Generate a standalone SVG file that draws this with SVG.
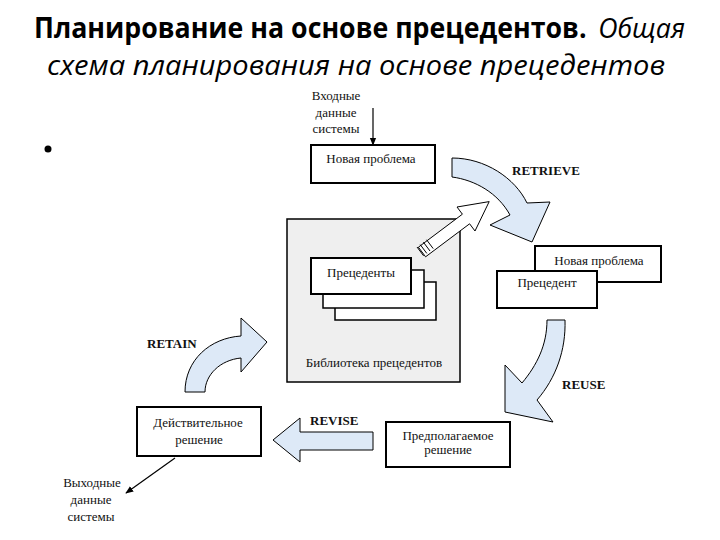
<svg xmlns="http://www.w3.org/2000/svg" width="720" height="540" viewBox="0 0 720 540">
<style>
.t{font-family:"Liberation Serif","Times New Roman",serif;font-size:13px;fill:#111;text-anchor:middle}
.lb{font-family:"Liberation Serif","Times New Roman",serif;font-size:13px;font-weight:bold;fill:#111}
.box{fill:#fff;stroke:#000;stroke-width:2}
.blue{fill:#dde9f7;stroke:#000;stroke-width:1}
.ln{stroke:#000;stroke-width:1.2;fill:none}
.ttl{font-family:"Open Sans","Noto Sans",sans-serif;font-size:28px;fill:#000}
</style>
<defs>
<marker id="ah" viewBox="0 0 10 10" refX="9" refY="5" markerWidth="8" markerHeight="8" markerUnits="userSpaceOnUse" orient="auto">
<path d="M0,1 L10,5 L0,9 Z" fill="#000"/>
</marker>
</defs>
<rect width="720" height="540" fill="#fff"/>
<g id="title">
<text class="ttl" x="34" y="38" textLength="651" lengthAdjust="spacingAndGlyphs"><tspan font-weight="bold">Планирование на основе прецедентов.</tspan> <tspan font-style="italic" dx="5">Общая</tspan></text>
<text class="ttl" x="47" y="75" font-style="italic" textLength="618" lengthAdjust="spacingAndGlyphs">схема планирования на основе прецедентов</text>
</g>
<circle cx="48" cy="149" r="3.5" fill="#000"/>
<g id="connectors">
<line class="ln" x1="373" y1="108" x2="373" y2="145" marker-end="url(#ah)"/>
<line class="ln" x1="175" y1="458" x2="126" y2="493" marker-end="url(#ah)"/>
<path id="retrieve" class="blue" d="M452,158 C485,158 515,178 527,203 L550,202 L532,242 L490,225 L510,215 C498,193 475,180 452,177 Z"/>
<path id="reuse" class="blue" d="M547,320 L565,320 C566,350 556,378 537,400 L553,422 L505,412 L505,365 L522,383 C537,365 547,345 547,320 Z"/>
<path id="revise" class="blue" d="M373,432 L300,432 L300,418 L273,440 L300,462 L300,450 L373,450 Z"/>
<path id="retain" class="blue" d="M185,392 L205,392 C205,375 220,360 241,358 L241,372 L267,342 L241,318 L241,336 C210,338 185,360 185,392 Z"/>
</g>
<g id="input-label">
<text class="t" x="336" y="100">Входные</text>
<text class="t" x="336" y="117">данные</text>
<text class="t" x="336" y="133">системы</text>
</g>
<g id="new-problem">
<rect class="box" x="311" y="145" width="124" height="38"/>
<text class="t" x="371" y="163">Новая проблема</text>
</g>
<g id="library">
<rect x="287" y="219" width="173" height="163" fill="#efefef" stroke="#000" stroke-width="1.5"/>
<text class="t" x="374" y="367">Библиотека прецедентов</text>
</g>
<g id="precedents">
<rect x="335" y="282" width="101" height="38" fill="#fff" stroke="#000" stroke-width="1.5"/>
<rect x="323" y="270" width="101" height="38" fill="#fff" stroke="#000" stroke-width="1.5"/>
<rect class="box" x="311" y="258" width="100" height="36"/>
<text class="t" x="361" y="277">Прецеденты</text>
</g>
<g id="striped-arrow">
<path d="M425.6,256.8 L469.6,223.8 L475,231 L489.2,201.6 L457,207 L462.4,214.2 L418.4,247.2 Z" fill="#fff" stroke="#000" stroke-width="1"/>
<path d="M421,253 L427.6,261.8 M424.2,250.6 L430.8,259.4 M427.4,248.2 L434,257 M430.6,245.8 L437.2,254.6" stroke="#000" stroke-width="1" fill="none" transform="translate(-4,-6)"/>
</g>
<g id="retrieved">
<rect class="box" x="535" y="246" width="126" height="36"/>
<text class="t" x="599" y="265">Новая проблема</text>
<rect class="box" x="497" y="271" width="100" height="37"/>
<text class="t" x="547" y="287">Прецедент</text>
</g>
<g id="proposed">
<rect class="box" x="386" y="422" width="124" height="45"/>
<text class="t" x="448" y="440">Предполагаемое</text>
<text class="t" x="448" y="454">решение</text>
</g>
<g id="actual">
<rect class="box" x="137" y="407" width="124" height="49"/>
<text class="t" x="198" y="427">Действительное</text>
<text class="t" x="199" y="444">решение</text>
</g>
<g id="output-label">
<text class="t" x="92" y="487">Выходные</text>
<text class="t" x="91" y="504">данные</text>
<text class="t" x="91" y="521">системы</text>
</g>
<g id="labels">
<text class="lb" x="512" y="175">RETRIEVE</text>
<text class="lb" x="562" y="389">REUSE</text>
<text class="lb" x="310" y="425">REVISE</text>
<text class="lb" x="147" y="348">RETAIN</text>
</g>
</svg>
